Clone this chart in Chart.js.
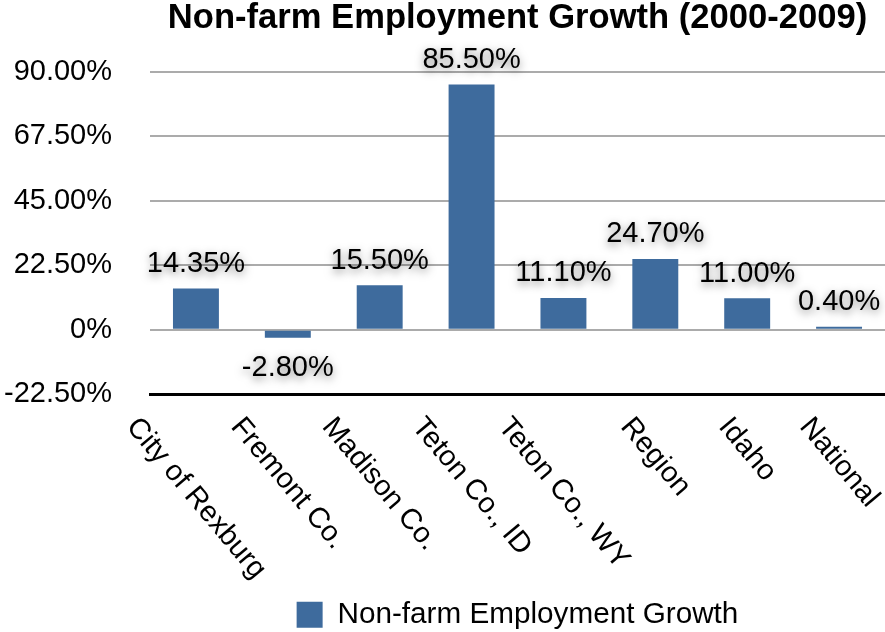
<!DOCTYPE html>
<html>
<head>
<meta charset="utf-8">
<script src="https://cdn.jsdelivr.net/npm/chart.js@4"></script>
<style>
  html, body { margin: 0; padding: 0; background: #fff; }
  #c { display: block; }
</style>
</head>
<body>
<canvas id="c" width="885" height="632"></canvas>
<script>
// Categories and growth values (percent, 2000-2009)
const categories = ['City of Rexburg', 'Fremont Co.', 'Madison Co.', 'Teton Co., ID', 'Teton Co., WY', 'Region', 'Idaho', 'National'];
const growth = [14.35, -2.8, 15.5, 85.5, 11.1, 24.7, 11.0, 0.4];
const yTicks = [-22.5, 0, 22.5, 45, 67.5, 90];
const yTickLabels = ['-22.50%', '0%', '22.50%', '45.00%', '67.50%', '90.00%'];
const seriesName = 'Non-farm Employment Growth';
const chartTitle = 'Non-farm Employment Growth (2000-2009)';

const FONT = '"Liberation Sans", Arial, Helvetica, sans-serif';
const BAR = '#3E6B9D';
const LABEL_ANGLE = 50 * Math.PI / 180;

// Value labels above/below each bar with a soft drop shadow
const valueLabels = {
  id: 'valueLabels',
  afterDatasetsDraw(chart) {
    const ctx = chart.ctx;
    const meta = chart.getDatasetMeta(0);
    const data = chart.data.datasets[0].data;
    ctx.save();
    ctx.font = '29px ' + FONT;
    ctx.fillStyle = '#000';
    ctx.textAlign = 'center';
    ctx.textBaseline = 'alphabetic';
    ctx.shadowColor = 'rgba(0,0,0,0.5)';
    ctx.shadowBlur = 8;
    ctx.shadowOffsetX = 0;
    ctx.shadowOffsetY = 3;
    meta.data.forEach((bar, i) => {
      const v = data[i];
      const text = v.toFixed(2) + '%';
      const y = v >= 0 ? bar.y - 16.5 : bar.y + 38;
      ctx.fillText(text, bar.x, y);
    });
    ctx.restore();
  }
};

// Slanted category labels, each centred horizontally under its tick
const slantedLabels = {
  id: 'slantedLabels',
  afterDraw(chart) {
    const ctx = chart.ctx;
    const xs = chart.scales.x;
    const top = chart.chartArea.bottom + 27.5;
    ctx.save();
    ctx.font = '29px ' + FONT;
    ctx.fillStyle = '#000';
    ctx.textAlign = 'left';
    ctx.textBaseline = 'middle';
    chart.data.labels.forEach((lab, i) => {
      const x = xs.getPixelForTick(i);
      const w = ctx.measureText(lab).width;
      ctx.save();
      ctx.translate(x - w * Math.cos(LABEL_ANGLE) / 2, top);
      ctx.rotate(LABEL_ANGLE);
      ctx.fillText(lab, 0, 0);
      ctx.restore();
    });
    ctx.restore();
  }
};

new Chart(document.getElementById('c'), {
  type: 'bar',
  data: {
    labels: categories,
    datasets: [{
      label: seriesName,
      data: growth,
      backgroundColor: BAR,
      borderWidth: 0,
      minBarLength: 3,
      categoryPercentage: 1.0,
      barPercentage: 0.5
    }]
  },
  options: {
    responsive: false,
    animation: false,
    devicePixelRatio: 1,
    layout: { padding: { left: 0, right: 0, top: 0, bottom: -7.5 } },
    scales: {
      x: {
        grid: { display: false, drawTicks: false },
        border: { display: true, color: '#000', width: 3 },
        ticks: { display: false },
        afterFit(scale) { scale.height = 195.5; }
      },
      y: {
        min: -22.5,
        max: 90,
        afterBuildTicks(scale) { scale.ticks = yTicks.map(v => ({ value: v })); },
        afterFit(scale) { scale.width = 150; },
        grid: { color: '#ababab', lineWidth: 2, drawTicks: false },
        border: { display: false },
        ticks: {
          padding: 38,
          color: '#000',
          font: { family: FONT, size: 29 },
          callback(value) {
            const i = yTicks.indexOf(value);
            return i >= 0 ? yTickLabels[i] : '';
          }
        }
      }
    },
    plugins: {
      title: {
        display: true,
        text: chartTitle,
        fullSize: false,
        color: '#000',
        font: { family: FONT, size: 34.6, weight: 'bold', lineHeight: 1.08 },
        padding: { top: 0, bottom: 34.3 }
      },
      legend: {
        display: true,
        position: 'bottom',
        fullSize: false,
        labels: {
          boxWidth: 26,
          boxHeight: 26,
          color: '#000',
          font: { family: FONT, size: 29.7 }
        }
      },
      tooltip: { enabled: false }
    }
  },
  plugins: [valueLabels, slantedLabels]
});
</script>
</body>
</html>
